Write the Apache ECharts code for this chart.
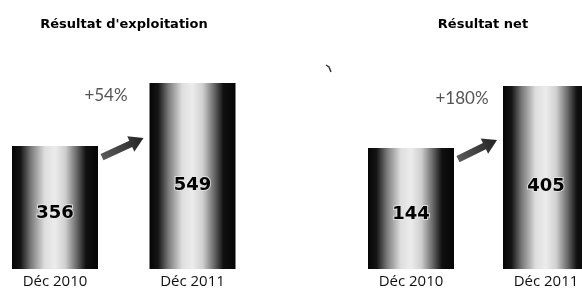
<!DOCTYPE html>
<html>
<head>
<meta charset="utf-8">
<script src="https://cdn.jsdelivr.net/npm/echarts@6/dist/echarts.min.js"></script>
<style>html,body{margin:0;padding:0;background:#fff}#c{width:582px;height:291px}</style>
</head>
<body>
<div id="c"></div>
<script>
// Data
const categories = ['Déc 2010', 'Déc 2011'];
const titles = ['Résultat d\'exploitation', 'Résultat net'];
const exploitValues = [356, 549];
const netValues = [144, 405];
const growthLabels = ['+54%', '+180%'];

const chart = echarts.init(document.getElementById('c'), null, {renderer: 'canvas'});

function barGradient() {
  return new echarts.graphic.LinearGradient(0, 0, 1, 0, [
    {offset: 0, color: '#050505'},
    {offset: 0.1, color: '#151515'},
    {offset: 0.22, color: '#7a7a7a'},
    {offset: 0.38, color: '#dedede'},
    {offset: 0.5, color: '#ececec'},
    {offset: 0.62, color: '#cfcfcf'},
    {offset: 0.75, color: '#6a6a6a'},
    {offset: 0.86, color: '#101010'},
    {offset: 1, color: '#050505'}
  ]);
}

const grids = [
  {left: 55, width: 137.5, top: 83, height: 186},
  {left: 411, width: 135, top: 86, height: 183}
];
const yRanges = [[-20, 549], [-365, 405]];
const BAR_W = 86;

function xAxisOf(i) {
  return {
    gridIndex: i, type: 'category', data: categories, boundaryGap: false,
    axisLine: {show: false}, axisTick: {show: false}, splitLine: {show: false},
    axisLabel: {margin: 5, color: '#111', fontFamily: 'Open Sans', fontSize: 15, interval: 0}
  };
}
function yAxisOf(i) {
  return {gridIndex: i, type: 'value', min: yRanges[i][0], max: yRanges[i][1], show: false, splitLine: {show: false}};
}
function seriesOf(i, vals) {
  return {
    type: 'custom', xAxisIndex: i, yAxisIndex: i, clip: false, silent: true,
    data: vals.map((v, k) => [k, v]),
    encode: {x: 0, y: 1},
    renderItem: function (params, api) {
      const top = api.coord([api.value(0), api.value(1)]);
      const base = api.coord([api.value(0), yRanges[i][0]]);
      return {
        type: 'rect',
        shape: {x: top[0] - BAR_W / 2, y: top[1], width: BAR_W, height: base[1] - top[1]},
        style: {fill: barGradient()},
        textContent: {
          type: 'text',
          style: {
            text: String(api.value(1)), fill: '#000', fontFamily: 'DejaVu Sans',
            fontWeight: 'bold', fontSize: 18, align: 'center', verticalAlign: 'middle',
            stroke: 'rgba(230,230,230,0.8)', lineWidth: 2
          }
        },
        textConfig: {position: ['50%', '55%']}
      };
    }
  };
}

chart.setOption({
  animation: false,
  backgroundColor: '#fff',
  title: [
    {text: titles[0], left: 119, top: 13, textAlign: 'center',
     textStyle: {fontFamily: 'DejaVu Sans', fontWeight: 'bold', fontSize: 13, color: '#000'}},
    {text: titles[1], left: 478, top: 13, textAlign: 'center',
     textStyle: {fontFamily: 'DejaVu Sans', fontWeight: 'bold', fontSize: 13, color: '#000'}}
  ],
  grid: grids,
  xAxis: [xAxisOf(0), xAxisOf(1)],
  yAxis: [yAxisOf(0), yAxisOf(1)],
  series: [seriesOf(0, exploitValues), seriesOf(1, netValues)]
});

// Annotations: arrows and growth labels placed relative to the bars
const allVals = [exploitValues, netValues];
const graphics = [];
for (let i = 0; i < 2; i++) {
  const p1 = chart.convertToPixel({gridIndex: i}, [0, allVals[i][0]]);
  const p2 = chart.convertToPixel({gridIndex: i}, [1, allVals[i][1]]);
  const tail = [p1[0] + BAR_W / 2 + 4, p1[1] + 11];
  const tip = [p2[0] - BAR_W / 2 - 6, p1[1] - 8];
  const dx = tip[0] - tail[0], dy = tip[1] - tail[1];
  const L = Math.sqrt(dx * dx + dy * dy);
  const ang = Math.atan2(-dy, dx);
  graphics.push({
    type: 'polygon', x: tail[0], y: tail[1], rotation: ang,
    shape: {points: [[0, -3.5], [L - 14, -3.5], [L - 14, -8.5], [L, 0], [L - 14, 8.5], [L - 14, 3.5], [0, 3.5]]},
    style: {fill: new echarts.graphic.LinearGradient(0, 0, 1, 0, [
      {offset: 0, color: '#5a5a5a'}, {offset: 0.6, color: '#3a3a3a'}, {offset: 1, color: '#222'}])},
    silent: true
  });
  graphics.push({
    type: 'text', x: tail[0] + 4, y: p2[1] + 13,
    style: {text: growthLabels[i], fontFamily: 'Lato', fontSize: 17, fill: '#555',
            align: 'center', verticalAlign: 'middle'},
    silent: true
  });
}
graphics.push({
  type: 'polyline', shape: {points: [[326, 65], [329, 67], [331, 72]]},
  style: {stroke: '#333', lineWidth: 1.5, fill: null}, silent: true
});
chart.setOption({graphic: graphics});
</script>
</body>
</html>
